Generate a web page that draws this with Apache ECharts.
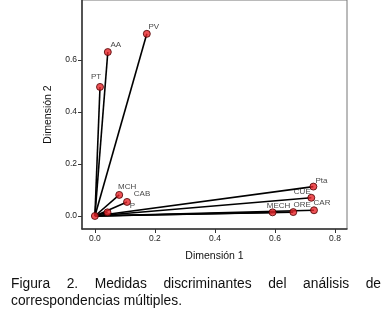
<!DOCTYPE html>
<html><head><meta charset="utf-8">
<script src="https://cdn.jsdelivr.net/npm/echarts@6/dist/echarts.min.js"></script>
<style>
html,body{margin:0;padding:0;background:#fff;}
#c{width:390px;height:310px;position:absolute;left:0;top:0;}
#cap{position:absolute;left:11px;top:275px;width:370px;font-family:"Liberation Sans",Arial,sans-serif;font-size:13.8px;line-height:17px;color:#111;text-align:justify;}
</style></head><body>
<div id="c"></div>
<div id="cap">Figura 2. Medidas discriminantes del análisis de correspondencias múltiples.</div>
<script>
const names = ['PV','AA','PT','MCH','CAB','P','Pta','CUE','CAR','ORE','MECH'];
const dim1 = [0.173,0.043,0.017,0.081,0.107,0.042,0.728,0.721,0.730,0.661,0.592];
const dim2 = [0.700,0.630,0.496,0.081,0.054,0.014,0.113,0.070,0.022,0.015,0.014];
const xTicks = [0,0.2,0.4,0.6,0.8];
const yTicks = [0,0.2,0.4,0.6];
// label offsets (styling) relative to each marker centre
const labelOffsets = [[7,-7],[8,-7],[-4,-10],[8,-8],[15,-8],[25,-7],[8,-6],[-9,-6],[8,-7],[9,-7],[6,-7]];

const series = [];
names.forEach((n,i)=>{
  series.push({
    type:'line', data:[[0,0],[dim1[i],dim2[i]]],
    symbol:'none', lineStyle:{color:'#000',width:1.6}, silent:true, z:2
  });
});
series.push({
  type:'scatter',
  data: names.map((n,i)=>({value:[dim1[i],dim2[i]], name:n,
    label:{show:true, position:'inside', formatter:n, offset:labelOffsets[i]}}))
    .concat([{value:[0,0],label:{show:false}}]),
  symbolSize:7,
  itemStyle:{color:'#e8262a',borderColor:'#4a0000',borderWidth:1},
  label:{fontSize:8,color:'#111',fontFamily:'Liberation Sans, Arial, sans-serif'},
  z:5
});
const chart = echarts.init(document.getElementById('c'));
const font = 'Liberation Sans, Arial, sans-serif';
chart.setOption({
  animation:false,
  grid:{left:82,right:43,top:0,bottom:81,outerBoundsMode:'none',containLabel:false,
    show:true,borderColor:'#777',borderWidth:1,backgroundColor:'#fff'},
  xAxis:{type:'value',min:-0.043,max:0.84,
    name:'Dimensión 1',nameLocation:'middle',nameGap:22,
    nameTextStyle:{fontSize:10.5,color:'#111',fontFamily:font},
    axisLine:{show:true,onZero:false,lineStyle:{color:'#333',width:1.5}},
    axisTick:{show:true,customValues:xTicks,length:4,lineStyle:{color:'#333'}},
    axisLabel:{customValues:xTicks,fontSize:8.5,color:'#222',margin:5,fontFamily:font,formatter:v=>v.toFixed(1)},
    splitLine:{show:false}},
  yAxis:{type:'value',min:-0.05,max:0.83,
    name:'Dimensión 2',nameLocation:'middle',nameGap:28,
    nameTextStyle:{fontSize:10.5,color:'#111',fontFamily:font},
    axisLine:{show:true,onZero:false,lineStyle:{color:'#333',width:1.5}},
    axisTick:{show:true,customValues:yTicks,length:4,lineStyle:{color:'#333'}},
    axisLabel:{customValues:yTicks,fontSize:8.5,color:'#222',margin:5,fontFamily:font,formatter:v=>v.toFixed(1)},
    splitLine:{show:false}},
  series:series
});
</script>
</body></html>
